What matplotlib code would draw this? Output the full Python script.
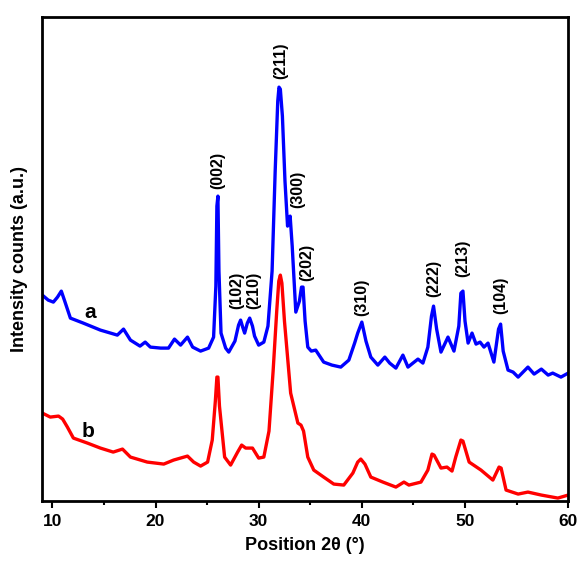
import matplotlib
matplotlib.use("Agg")
import matplotlib.pyplot as plt
from matplotlib.ticker import MultipleLocator

plt.rcParams['font.family'] = ['Liberation Sans', 'DejaVu Sans']

# pattern a (blue), 2theta in degrees, intensity in arbitrary units
two_theta_a = [9.03, 9.6, 10.1, 10.5, 10.87, 11.2, 11.75, 13.0, 14.66, 16.3, 16.9, 17.57, 18.5, 19.0, 19.5,
               20.5, 21.26, 21.84, 22.43, 23.1, 23.6, 24.37, 25.15, 25.63, 25.85, 25.95, 26.05, 26.15,
               26.35, 26.8, 27.1, 27.7, 28.05, 28.25, 28.45, 28.64, 28.9, 29.13, 29.4, 29.6, 30.0, 30.5, 30.9, 31.3,
               31.6, 31.85, 31.97, 32.1, 32.3, 32.55, 32.8, 32.92, 33.05, 33.25, 33.6, 33.95, 34.15, 34.3,
               34.5, 34.76, 35.1, 35.53, 36.3, 37.1, 37.96, 38.74, 39.3, 39.6, 40.0, 40.4, 40.87,
               41.55, 42.23, 42.7, 43.3, 43.98, 44.47, 44.95, 45.44, 45.92, 46.4, 46.75, 46.95,
               47.25, 47.67, 48.35, 48.93, 49.4, 49.6, 49.8, 50.0, 50.3, 50.68, 51.07, 51.46,
               51.84, 52.23, 52.8, 53.25, 53.45, 53.7, 54.17, 54.66, 55.15, 56.1, 56.7, 57.4,
               58.06, 58.5, 59.3, 60.0]
intensity_a = [206, 201, 199, 204, 210, 200, 183, 178, 171, 166, 172, 161, 155, 159, 154,
               153, 153, 162, 156, 164, 154, 150, 153, 164, 215, 295, 305, 230,
               168, 153, 149, 160, 176, 181, 174, 168, 178, 183, 175, 165, 156, 159, 175, 230,
               330, 400, 414, 412, 385, 320, 275, 282, 285, 255, 189, 200, 214, 214,
               180, 154, 150, 151, 139, 136, 134, 141, 158, 168, 179, 160, 144,
               136, 144, 138, 133, 146, 134, 138, 142, 138, 154, 185, 195,
               172, 149, 164, 150, 175, 208, 210, 180, 158, 168, 157, 159,
               154, 158, 139, 172, 177, 150, 131, 129, 124, 134, 127, 132,
               126, 128, 124, 128]

# pattern b (red)
two_theta_b = [9.03, 9.8, 10.6, 11.0, 11.46, 12.04, 13.4, 14.66, 15.9, 16.8, 17.57, 19.2, 20.8,
               21.75, 23.1, 23.7, 24.37, 25.05, 25.5, 25.8, 25.95, 26.05, 26.2, 26.7, 27.28,
               27.96, 28.35, 28.74, 29.4, 30.0, 30.5, 31.0, 31.4, 31.75, 31.95, 32.1, 32.25, 32.5,
               33.1, 33.8, 34.1, 34.35, 34.76, 35.34, 36.3, 37.28, 38.25, 39.13, 39.6, 39.9, 40.3, 40.87,
               42.04, 43.3, 44.08, 44.56, 45.73, 46.4, 46.8, 47.0, 47.67, 48.25, 48.74, 49.1,
               49.6, 49.8, 50.4, 51.55, 52.7, 53.3, 53.5, 53.98, 55.15, 56.1, 57.4, 59.0, 60.0]
intensity_b = [88, 84, 85, 82, 74, 63, 58, 53, 49, 52, 44, 39, 37,
               41, 45, 39, 35, 39, 61, 100, 124, 124, 95, 44, 36,
               49, 56, 53, 53, 43, 44, 70, 130, 190, 220, 226, 218, 180,
               108, 78, 76, 70, 44, 31, 24, 17, 16, 28, 39, 42, 37, 24,
               19, 14, 19, 16, 19, 31, 47, 46, 33, 34, 30, 44,
               61, 60, 39, 31, 21, 34, 33, 11, 7, 9, 6, 3, 6]

# Miller index labels and where they sit
hkl_labels = ['(002)', '(102)', '(210)', '(211)', '(300)', '(202)', '(310)', '(222)', '(213)', '(104)']
hkl_x = [26.0, 27.86, 29.5, 32.14, 33.8, 34.66, 40.0, 47.0, 49.8, 53.5]
hkl_y = [331, 211, 211, 440, 312, 239, 204, 223, 243, 206]

fig = plt.figure(figsize=(5.78, 5.72), dpi=100)
ax = fig.add_axes([0.0727, 0.124, 0.9103, 0.846])

ax.plot(two_theta_a, intensity_a, color='#0000ff', lw=2.4, solid_joinstyle='round')
ax.plot(two_theta_b, intensity_b, color='#ff0000', lw=2.4, solid_joinstyle='round')

for lab, x, y in zip(hkl_labels, hkl_x, hkl_y):
    ax.text(x, y, lab, rotation=90, ha='center', va='center', fontsize=11.5, fontweight='bold')

ax.text(13.7, 189, 'a', fontsize=15, fontweight='bold', ha='center', va='center')
ax.text(13.5, 70, 'b', fontsize=15, fontweight='bold', ha='center', va='center')

ax.set_xlim(9, 60)
ax.set_ylim(0, 484)
ax.xaxis.set_major_locator(MultipleLocator(10))
ax.xaxis.set_minor_locator(MultipleLocator(5))
ax.set_yticks([])
ax.tick_params(axis='x', which='both', direction='out', width=1.5, labelsize=12.5, pad=4)
ax.tick_params(axis='x', which='major', length=5)
ax.tick_params(axis='x', which='minor', length=3)
for lbl in ax.get_xticklabels():
    lbl.set_fontweight('bold')
for sp in ax.spines.values():
    sp.set_linewidth(2)

ax.set_xlabel('Position 2\u03b8 (\u00b0)', fontsize=13, fontweight='bold', labelpad=6)
ax.set_ylabel('Intensity counts (a.u.)', fontsize=13, fontweight='bold', labelpad=10)

fig.savefig('out.png', dpi=100)
